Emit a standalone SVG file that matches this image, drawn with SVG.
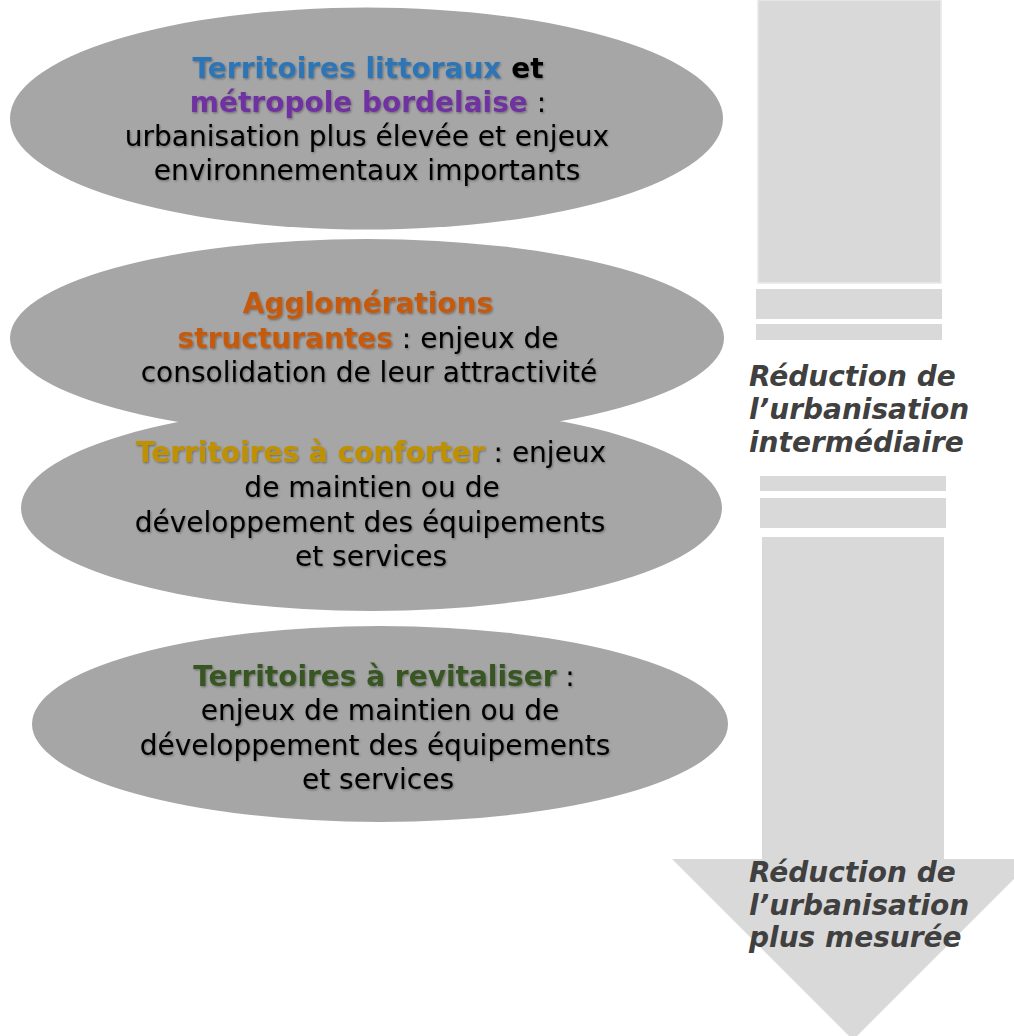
<svg xmlns="http://www.w3.org/2000/svg" width="1014" height="1036" viewBox="0 0 1014 1036">
<defs>
<filter id="sh" x="-5%" y="-20%" width="110%" height="140%">
<feDropShadow dx="1" dy="1.2" stdDeviation="0.8" flood-color="#000" flood-opacity="0.35"/>
</filter>
<style>
.ell{fill:#a6a6a6}
.bar{fill:#d9d9d9}
.t{font-family:"DejaVu Sans",Verdana,sans-serif;font-size:28px;fill:#000;text-anchor:middle;filter:url(#sh)}
.b{font-weight:bold}
.lbl{font-family:"DejaVu Sans",Verdana,sans-serif;font-size:28px;font-weight:bold;font-style:italic;fill:#404040}
</style>
</defs>
<rect width="1014" height="1036" fill="#fff"/>
<g id="connectors">
<rect class="bar" x="758" y="0" width="183" height="283" stroke="#e8e8e8" stroke-width="1.5"/>
<rect class="bar" x="756" y="289" width="186" height="30"/>
<rect class="bar" x="756" y="324" width="186" height="16"/>
<rect class="bar" x="760" y="476" width="186" height="15"/>
<rect class="bar" x="760" y="498" width="186" height="30"/>
<path class="bar" d="M762 537 H944 V859 H1034 L853 1040 L672 859 H762 Z"/>
</g>
<g id="node-littoraux">
<ellipse class="ell" cx="366.5" cy="118.5" rx="356.5" ry="111"/>
<text class="t" x="368" y="77.5"><tspan class="b" fill="#2e75b6">Territoires littoraux</tspan><tspan class="b"> et</tspan></text>
<text class="t" x="368" y="111.5"><tspan class="b" fill="#7030a0">métropole bordelaise</tspan> :</text>
<text class="t" x="367" y="146">urbanisation plus élevée et enjeux</text>
<text class="t" x="367" y="180">environnementaux importants</text>
</g>
<g id="node-agglomerations">
<ellipse class="ell" cx="367" cy="338" rx="357" ry="99"/>
<text class="t" x="368" y="312.5"><tspan class="b" fill="#c55a11">Agglomérations</tspan></text>
<text class="t" x="368" y="347.5"><tspan class="b" fill="#c55a11">structurantes</tspan> : enjeux de</text>
<text class="t" x="369" y="382">consolidation de leur attractivité</text>
</g>
<g id="node-conforter">
<ellipse class="ell" cx="371.5" cy="508" rx="350.5" ry="103"/>
<text class="t" x="371" y="462"><tspan class="b" fill="#bf9000">Territoires à conforter</tspan> : enjeux</text>
<text class="t" x="372" y="497">de maintien ou de</text>
<text class="t" x="370" y="531.5">développement des équipements</text>
<text class="t" x="371" y="566">et services</text>
</g>
<g id="node-revitaliser">
<ellipse class="ell" cx="380" cy="724" rx="348" ry="98"/>
<text class="t" x="384" y="686"><tspan class="b" fill="#375623">Territoires à revitaliser</tspan> :</text>
<text class="t" x="380" y="720">enjeux de maintien ou de</text>
<text class="t" x="375" y="754.5">développement des équipements</text>
<text class="t" x="378" y="789">et services</text>
</g>
<g id="label-intermediaire">
<text class="lbl" x="749" y="386">Réduction de</text>
<text class="lbl" x="749" y="419">l’urbanisation</text>
<text class="lbl" x="749" y="452">intermédiaire</text>
</g>
<g id="label-mesuree">
<text class="lbl" x="749" y="882">Réduction de</text>
<text class="lbl" x="749" y="915">l’urbanisation</text>
<text class="lbl" x="749" y="947">plus mesurée</text>
</g>
</svg>
